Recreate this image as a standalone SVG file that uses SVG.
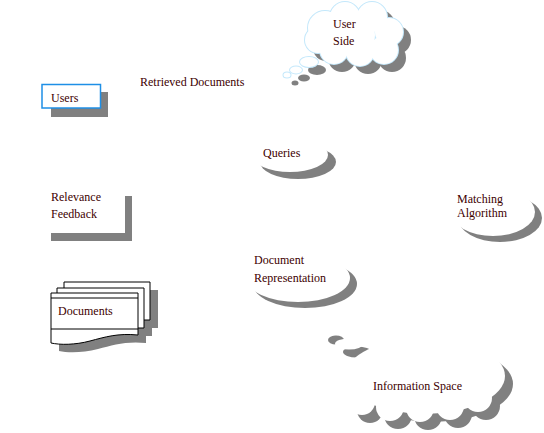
<svg xmlns="http://www.w3.org/2000/svg" xmlns:xlink="http://www.w3.org/1999/xlink" width="544" height="433" viewBox="0 0 544 433">
<style>
.sh{fill:#808080;stroke:none}
.wh{fill:#fff;stroke:none}
.txt{font-family:"Liberation Serif","Times New Roman",serif;font-size:12px;fill:#400000}
.page{fill:#fff;stroke:#000;stroke-width:1}
</style>
<defs>
<g id="ucloud">
<circle cx="325" cy="28" r="17"/><circle cx="345" cy="17" r="15"/><circle cx="372" cy="17" r="15"/>
<circle cx="389" cy="32" r="14"/><circle cx="384" cy="50" r="14"/><circle cx="360" cy="52" r="14"/>
<circle cx="334" cy="50" r="14"/><circle cx="318" cy="40" r="13"/><circle cx="355" cy="35" r="20"/>
<ellipse cx="309" cy="62" rx="9" ry="5"/><ellipse cx="296" cy="70" rx="6" ry="3.5"/><ellipse cx="287" cy="75" rx="3.5" ry="2.5"/>
</g>
<g id="icloud">
<ellipse cx="425" cy="376" rx="80" ry="38"/>
<circle cx="362" cy="402" r="13"/><circle cx="390" cy="407" r="14"/><circle cx="420" cy="408" r="14"/>
<circle cx="450" cy="406" r="14"/><circle cx="478" cy="398" r="14"/>
<ellipse cx="328" cy="332" rx="8" ry="4.5"/><ellipse cx="349" cy="344" rx="14" ry="5.5"/>
</g>
<g id="docs">
<path d="M64,282 H150 V320 H64 Z"/>
<path d="M57,288 H144 V328 H57 Z"/>
<path d="M51,293 H138 V335 C118,333 105,337 90,341 C75,345 60,345 51,343 Z"/>
</g>
</defs>
<rect width="544" height="433" fill="#fff"/>
<g id="connectors"></g>
<g id="user-side">
<use xlink:href="#ucloud" class="sh" transform="translate(8,8)"/>
<use xlink:href="#ucloud" fill="#fff" stroke="#c4e8fb" stroke-width="2"/>
<use xlink:href="#ucloud" class="wh"/>
<text class="txt" font-family="Liberation Serif, serif" x="333" y="28" font-size="12.5">User</text>
<text class="txt" font-family="Liberation Serif, serif" x="333" y="45" font-size="12.5">Side</text>
</g>
<g id="users">
<rect x="51" y="92" width="57" height="25" class="sh"/>
<rect x="42" y="84.5" width="58.5" height="23.5" fill="#fff" stroke="#1e8fe6" stroke-width="1.5"/>
<text class="txt" font-family="Liberation Serif, serif" x="51" y="101.5">Users</text>
</g>
<g id="retrieved-documents">
<text class="txt" font-family="Liberation Serif, serif" x="140" y="86" font-size="13">Retrieved Documents</text>
</g>
<g id="queries">
<ellipse cx="298" cy="162" rx="38" ry="17" class="sh"/>
<ellipse cx="290" cy="155" rx="38" ry="17" class="wh"/>
<text class="txt" font-family="Liberation Serif, serif" x="263" y="156.5">Queries</text>
</g>
<g id="relevance-feedback">
<rect x="51" y="196" width="81" height="45" class="sh"/>
<rect x="44" y="188" width="81" height="45" class="wh"/>
<text class="txt" font-family="Liberation Serif, serif" x="51" y="201">Relevance</text>
<text class="txt" font-family="Liberation Serif, serif" x="51" y="218">Feedback</text>
</g>
<g id="matching-algorithm">
<ellipse cx="500" cy="218" rx="42" ry="24" class="sh"/>
<ellipse cx="493" cy="212" rx="42" ry="24" class="wh"/>
<text class="txt" font-family="Liberation Serif, serif" x="457" y="203">Matching</text>
<text class="txt" font-family="Liberation Serif, serif" x="457" y="217">Algorithm</text>
</g>
<g id="document-representation">
<ellipse cx="305" cy="284" rx="52" ry="24" class="sh"/>
<ellipse cx="298" cy="278" rx="52" ry="24" class="wh"/>
<text class="txt" font-family="Liberation Serif, serif" x="254" y="264">Document</text>
<text class="txt" font-family="Liberation Serif, serif" x="254" y="281.5">Representation</text>
</g>
<g id="documents">
<use xlink:href="#docs" class="sh" transform="translate(8,8)"/>
<path class="page" d="M64,282 H150 V320 H64 Z"/>
<path class="page" d="M57,288 H144 V328 H57 Z"/>
<path class="page" d="M51,293 H138 V335 C118,333 105,337 90,341 C75,345 60,345 51,343 Z"/>
<line x1="51" y1="298" x2="138" y2="298" stroke="#000"/>
<line x1="51" y1="329" x2="138" y2="329" stroke="#000"/>
<text class="txt" font-family="Liberation Serif, serif" x="58" y="314.5">Documents</text>
</g>
<g id="information-space">
<use xlink:href="#icloud" class="sh" transform="translate(8,8)"/>
<use xlink:href="#icloud" class="wh"/>
<text class="txt" font-family="Liberation Serif, serif" x="373" y="390" font-size="13.5">Information Space</text>
</g>
</svg>
